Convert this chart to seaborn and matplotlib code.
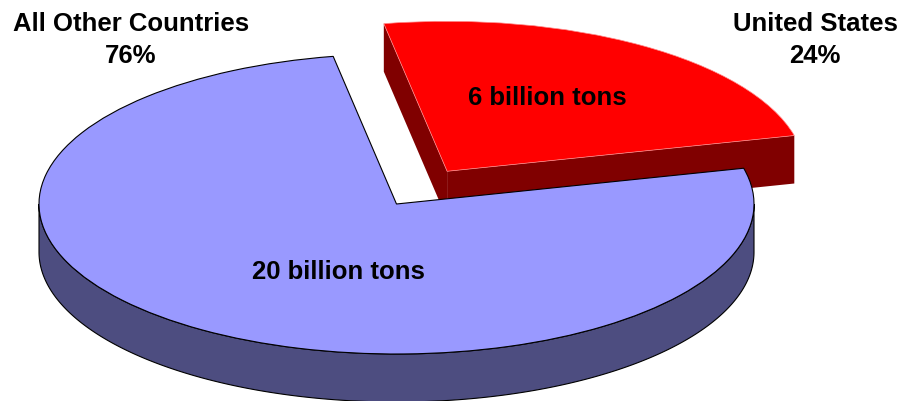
import numpy as np
import matplotlib
matplotlib.use("Agg")
import matplotlib.pyplot as plt
import seaborn as sns
from matplotlib.patches import Polygon

# Share of world emissions
countries = ["United States", "All Other Countries"]
shares = [24, 76]
tons_billion = [6, 20]
top_colors = ["#FF0000", "#9999FF"]
side_colors = ["#800000", "#4D4D80"]

sns.set_theme(style="white")
plt.rcParams["font.family"] = ["Liberation Sans", "DejaVu Sans"]

W, H = 906, 402
fig = plt.figure(figsize=(W / 100, H / 100), dpi=100)
ax = fig.add_axes([0, 0, 1, 1])

# pie centre and semi-axes in pixels; data units are ellipse radii
CX, CY, A, B = 396.5, 205.0, 357.5, 150.0
DEPTH = 48.0 / B


def px(x, y):
    return (x - CX) / A, (CY - y) / B


wedges, _ = ax.pie(shares, colors=top_colors, startangle=13.8,
                   counterclock=True, explode=[0.26, 0.0], radius=1.0,
                   center=(0, 0))
ax.set_aspect("auto")
x0, y1 = px(0, 0)
x1, y0 = px(W, H)
ax.set_xlim(x0, x1)
ax.set_ylim(y0, y1)
ax.axis("off")

edge_cols = ["#FF8C8C", "black"]
edge_lw = [0.5, 0.8]
base_z = [1, 3]

for w, side, ec, lw, z in zip(wedges, side_colors, edge_cols, edge_lw, base_z):
    w.set_edgecolor(ec)
    w.set_linewidth(lw)
    w.set_zorder(z + 1)
    cx, cy = w.center
    r = w.r
    t1, t2 = w.theta1, w.theta2

    # outer wall: parts of the rim facing the viewer (lower half)
    for k in (-1, 0, 1):
        lo = max(t1, 180 + 360 * k)
        hi = min(t2, 360 + 360 * k)
        if hi > lo:
            t = np.radians(np.linspace(lo, hi, 300))
            xs = cx + r * np.cos(t)
            ys = cy + r * np.sin(t)
            pts = np.column_stack([np.r_[xs, xs[::-1]],
                                   np.r_[ys, ys[::-1] - DEPTH]])
            ax.add_patch(Polygon(pts, closed=True, facecolor=side,
                                 edgecolor=ec if ec == "black" else "none",
                                 linewidth=lw, zorder=z))

    # radial cut faces that face the viewer
    for ang, normal in ((t1, t1 - 90), (t2, t2 + 90)):
        if np.sin(np.radians(normal)) < 0:
            ex = cx + r * np.cos(np.radians(ang))
            ey = cy + r * np.sin(np.radians(ang))
            pts = [(cx, cy), (ex, ey), (ex, ey - DEPTH), (cx, cy - DEPTH)]
            ax.add_patch(Polygon(pts, closed=True, facecolor=side,
                                 edgecolor="none", zorder=z))

font = dict(fontsize=18.5, fontweight="bold", color="black",
            ha="center", va="center")

# slice labels
ax.text(*px(547, 98), f"{tons_billion[0]} billion tons", zorder=10, **font)
ax.text(*px(338, 272), f"{tons_billion[1]} billion tons", zorder=10, **font)

# category labels with percentages
ax.text(*px(131, 40), f"{countries[1]}\n{shares[1]}%", linespacing=1.42,
        zorder=10, **font)
ax.text(*px(815, 40), f"{countries[0]}\n{shares[0]}%", linespacing=1.42,
        zorder=10, **font)

fig.savefig("out.png", dpi=100)
